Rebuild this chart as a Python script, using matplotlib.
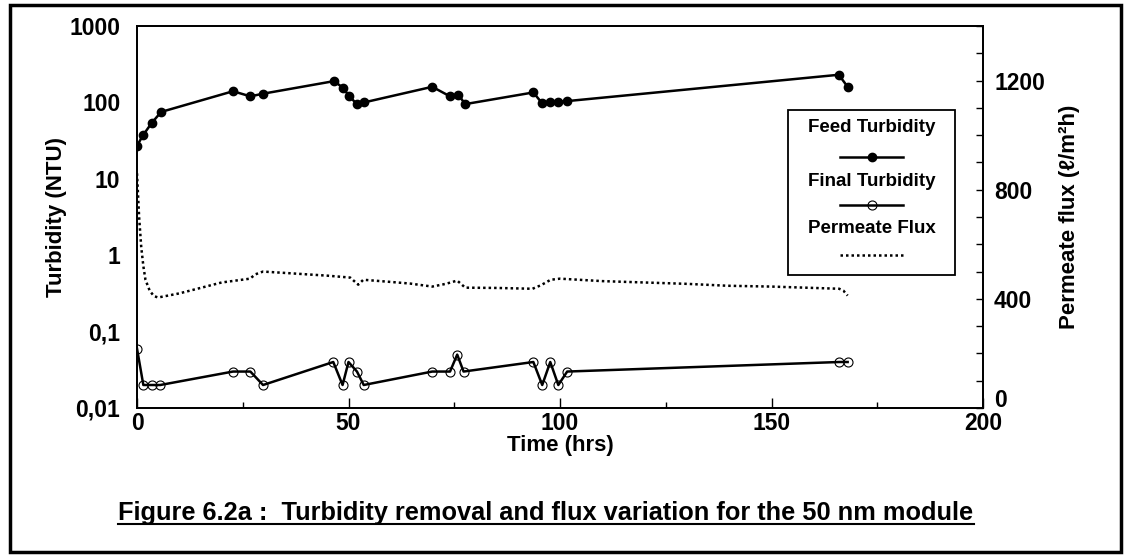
import matplotlib
matplotlib.use("Agg")
import matplotlib.pyplot as plt
import matplotlib.transforms as mtransforms
from matplotlib.lines import Line2D
from matplotlib.patches import Rectangle
from matplotlib.ticker import FixedLocator, MultipleLocator

plt.rcParams['font.family'] = ['Liberation Sans', 'DejaVu Sans']
plt.rcParams['font.weight'] = 'bold'

# ---- data ----
feed_time = [0, 1.4, 3.5, 5.7, 22.7, 26.8, 29.8, 46.6, 48.7, 50.2, 52, 53.7,
             69.8, 74, 76, 77.6, 93.7, 95.8, 97.7, 99.6, 101.7, 165.9, 168]
feed_turb = [27, 37, 54, 75, 140, 120, 130, 190, 155, 120, 95, 100,
             160, 120, 125, 95, 135, 97, 100, 102, 104, 230, 160]

final_time = [0, 1.5, 3.5, 5.5, 22.7, 26.8, 29.8, 46.4, 48.6, 50, 52, 53.6,
              69.8, 74, 75.7, 77.2, 93.7, 95.8, 97.7, 99.6, 101.7, 166, 168]
final_turb = [0.06, 0.02, 0.02, 0.02, 0.03, 0.03, 0.02, 0.04, 0.02, 0.04, 0.03, 0.02,
              0.03, 0.03, 0.05, 0.03, 0.04, 0.02, 0.04, 0.02, 0.03, 0.04, 0.04]

flux_time = [0, 0.5, 1.0, 1.5, 2.0, 3.0, 4.0, 5.0, 10, 15, 20, 26.7, 28, 29.8,
             35, 40, 45, 50.4, 52.3, 53.5, 60, 64.6, 69.8, 73, 75.7, 77.6,
             85, 93.5, 95.5, 97.8, 100, 110, 120, 130, 139.6, 150, 160, 166, 167, 168]
flux_vals = [860, 700, 590, 520, 470, 430, 410, 405, 420, 440, 460, 474, 490, 500,
             495, 490, 485, 478, 452, 470, 462, 456, 445, 455, 467, 441,
             440, 437, 450, 470, 474, 465, 460, 455, 448, 445, 440, 437, 430, 412]

left_ticks = [0.01, 0.1, 1, 10, 100, 1000]
left_labels = ['0,01', '0,1', '1', '10', '100', '1000']
right_ticks = [0, 400, 800, 1200]
x_ticks = [0, 50, 100, 150, 200]

W, H = 1126, 558
fig = plt.figure(figsize=(W / 100, H / 100), dpi=100)

L, R, T, B = 137, 983, 26, 408
ax = fig.add_axes([L / W, 1 - B / H, (R - L) / W, (B - T) / H])
ax2 = ax.twinx()

# main series
ax.plot(feed_time, feed_turb, color='black', lw=1.8, marker='o', ms=6,
        mfc='black', mec='black', zorder=3)
ax.plot(final_time, final_turb, color='black', lw=1.8, marker='o', ms=6.5,
        mfc='none', mec='black', mew=0.8, zorder=3)
ax2.plot(flux_time, flux_vals, color='black', lw=1.8, ls=(0, (1, 1.2)))

ax.set_yscale('log')
ax.set_ylim(0.01, 1000)
ax.set_xlim(0, 200)
ax2.set_ylim(0, 1400)

ax.yaxis.set_major_locator(FixedLocator(left_ticks))
ax.set_yticklabels(left_labels)
ax.yaxis.set_minor_locator(FixedLocator([]))
ax.set_xticks(x_ticks)
ax.xaxis.set_minor_locator(MultipleLocator(25))
ax2.set_yticks(right_ticks)
ax2.yaxis.set_minor_locator(MultipleLocator(100))

TS = 16.5
ax.tick_params(axis='y', which='both', direction='in', length=0, labelsize=TS, pad=12)
ax.tick_params(axis='x', which='major', direction='in', length=7, width=1, labelsize=TS, pad=3)
ax.tick_params(axis='x', which='minor', direction='in', length=4, width=1)
ax2.tick_params(axis='y', which='both', direction='in', length=5, width=1, labelsize=TS, pad=8)

for a in (ax, ax2):
    for s in a.spines.values():
        s.set_linewidth(1.3)
        s.set_color('black')
    for lab in a.get_xticklabels() + a.get_yticklabels():
        lab.set_fontweight('bold')

# nudge the right-axis "0" upward, as in the original
for lab in ax2.get_yticklabels():
    if lab.get_text() == '0':
        lab.set_transform(lab.get_transform() +
                          mtransforms.ScaledTranslation(0, 10 / 100, fig.dpi_scale_trans))

ax.set_ylabel('Turbidity (NTU)', fontsize=16, fontweight='bold', labelpad=2)
ax.set_xlabel('Time (hrs)', fontsize=16, fontweight='bold', labelpad=0)
ax2.set_ylabel('Permeate flux (ℓ/m²h)', fontsize=16, fontweight='bold', labelpad=10)

# ---- custom legend (label above sample) ----
tf = fig.transFigure
def fx(px):
    return px / W
def fy(py):
    return 1 - py / H

fig.patches.append(Rectangle((fx(788), fy(275)), fx(955) - fx(788), fy(110) - fy(275),
                             transform=tf, fill=False, ec='black', lw=1.3, zorder=5))
leg_items = [('Feed Turbidity', 128, 157, dict(ls='-', marker='o', mfc='black', ms=6)),
             ('Final Turbidity', 181, 205, dict(ls='-', marker='o', mfc='none', ms=6.5, mew=0.8)),
             ('Permeate Flux', 229, 255, dict(ls=(0, (1, 1.2)), marker=None))]
for text, ty, ly, st in leg_items:
    fig.text(fx(872), fy(ty), text, ha='center', va='center', fontsize=13.5, fontweight='bold')
    ln = Line2D([fx(840), fx(872), fx(903)], [fy(ly)] * 3, transform=tf, color='black',
                lw=1.8, markevery=[1], **st)
    fig.lines.append(ln)

# ---- caption with underline ----
cap = fig.text(fx(546), fy(513), 'Figure 6.2a :  Turbidity removal and flux variation for the 50 nm module',
               ha='center', va='center', fontsize=18.3, fontweight='bold')
fig.canvas.draw()
bb = cap.get_window_extent()
fig.lines.append(Line2D([bb.x0 / W, bb.x1 / W], [(bb.y0 + 1) / H] * 2, transform=tf,
                        color='black', lw=1.5))

# ---- outer frame ----
fig.patches.append(Rectangle((fx(10), fy(552)), fx(1121) - fx(10), fy(5) - fy(552),
                             transform=tf, fill=False, ec='black', lw=2.5))

fig.savefig('out.png', dpi=100)
